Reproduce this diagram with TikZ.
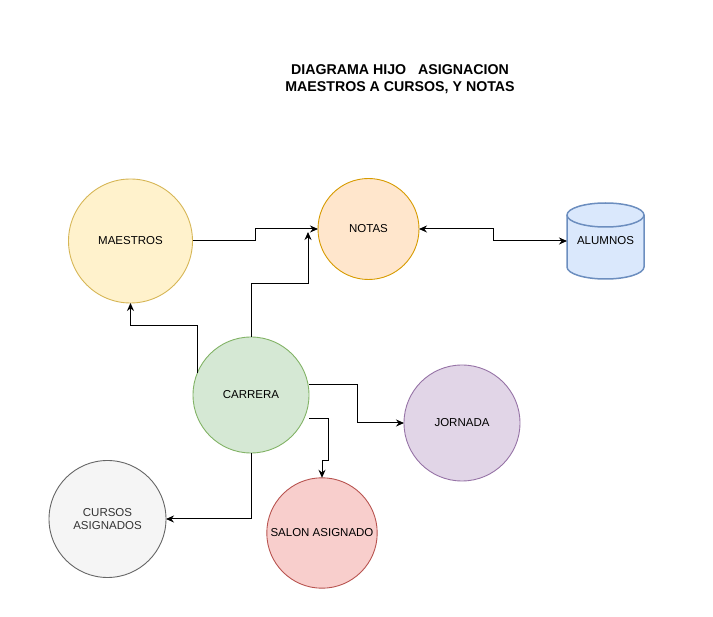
\documentclass[tikz,border=0pt]{standalone}
\usepackage{fontspec}
\setmainfont{Liberation Sans}
\usetikzlibrary{arrows.meta}
\definecolor{maestrosfill}{HTML}{FFF2CC}
\definecolor{maestrosline}{HTML}{D6B656}
\definecolor{notasfill}{HTML}{FFE6CC}
\definecolor{notasline}{HTML}{D79B00}
\definecolor{alumnosfill}{HTML}{DAE8FC}
\definecolor{alumnosline}{HTML}{6C8EBF}
\definecolor{carrerafill}{HTML}{D5E8D4}
\definecolor{carreraline}{HTML}{82B366}
\definecolor{jornadafill}{HTML}{E1D5E7}
\definecolor{jornadaline}{HTML}{9673A6}
\definecolor{cursosfill}{HTML}{F5F5F5}
\definecolor{cursosline}{HTML}{666666}
\definecolor{cursostext}{HTML}{333333}
\definecolor{salonfill}{HTML}{F8CECC}
\definecolor{salonline}{HTML}{B85450}
\begin{document}
\begin{tikzpicture}[x=1pt, y=-1pt,
  ent/.style={circle, draw, line width=0.9pt, outer sep=0pt, align=center,
    font=\fontsize{11.5}{13.5}\selectfont},
  conn/.style={line width=1pt, -{Stealth[length=8pt, width=7pt]}}]
\useasboundingbox (0,0) rectangle (713,617);
\node[font=\fontsize{14.2}{17}\selectfont\bfseries, align=center] (title) at (400,79)
  {DIAGRAMA HIJO\ \ \ ASIGNACION\\MAESTROS A CURSOS, Y NOTAS};
\node[ent, fill=maestrosfill, draw=maestrosline, minimum size=124pt] (maestros) at (130.5,241) {MAESTROS};
\node[ent, fill=notasfill, draw=notasline, minimum size=101pt] (notas) at (368.5,229) {NOTAS};
\node[ent, fill=carrerafill, draw=carreraline, minimum size=116pt] (carrera) at (251,395) {CARRERA};
\node[ent, fill=jornadafill, draw=jornadaline, minimum size=116pt] (jornada) at (462,423) {JORNADA};
\node[ent, fill=cursosfill, draw=cursosline, text=cursostext, minimum size=117pt] (cursos) at (107.5,519) {CURSOS\\[-1pt]ASIGNADOS};
\node[ent, fill=salonfill, draw=salonline, minimum size=104pt] (salon) at (322,533) {SALON ASIGNADO};
% alumnos cylinder
\draw[fill=alumnosfill, draw=alumnosline, line width=1.5pt]
  (567,215) -- (567,267) arc[start angle=180, end angle=360, x radius=38.5pt, y radius=12pt]
  -- (644,215) arc[start angle=0, end angle=180, x radius=38.5pt, y radius=12pt] -- cycle;
\draw[alumnosline, line width=1.5pt] (567,215) arc[start angle=180, end angle=360, x radius=38.5pt, y radius=12pt];
\node[minimum width=77pt, minimum height=76pt, outer sep=0pt, font=\fontsize{11.5}{13.5}\selectfont] (alumnos) at (605.5,241) {ALUMNOS};
\coordinate (notasin) at (308,232);
% connectors
\draw[conn] (maestros.east) -- ++(63,0) |- (notas.west);
\draw[conn] (carrera.north) -- ++(0,-53) -| (notasin);
\draw[conn] (carrera.158) -- ++(0,-48) -| (maestros.south);
\draw[line width=1pt, {Stealth[length=8pt, width=7pt]}-{Stealth[length=8pt, width=7pt]}]
  (notas.east) -- ++(74,0) |- (alumnos.west);
\draw[conn] ([yshift=10pt]carrera.east) -- ++(48,0) |- (jornada.west);
\draw[conn] ([yshift=-24pt]carrera.east) -- ++(19,0) -- ++(0,42) -| (salon.north);
\draw[conn] (carrera.south) |- (cursos.east);
\end{tikzpicture}
\end{document}
